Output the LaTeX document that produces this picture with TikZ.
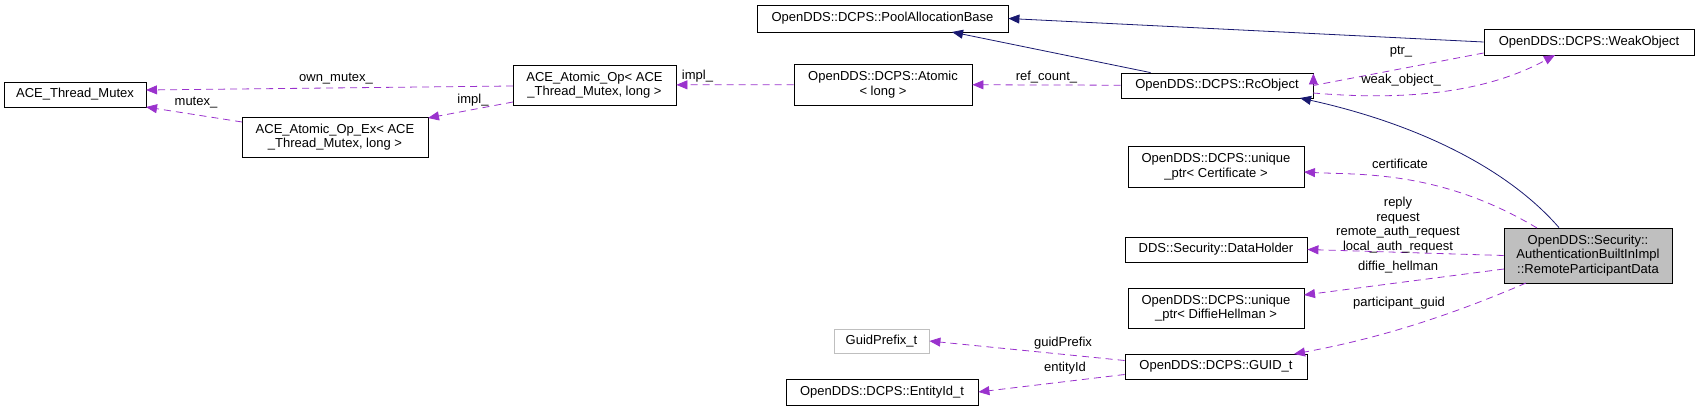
\documentclass[tikz,border=0pt]{standalone}
\usepackage{fontspec}
\setmainfont{Liberation Sans}
\usetikzlibrary{arrows.meta}
\definecolor{usecol}{HTML}{9A32CD}
\definecolor{inhcol}{HTML}{191970}
\begin{document}
\begin{tikzpicture}[x=1pt,y=-1pt,
  cls/.style={draw,thick,inner sep=0pt,align=center,font=\fontsize{13}{14.7}\selectfont},
  use/.style={draw=usecol,thick,dash pattern=on 7pt off 5pt,-{Triangle[length=11pt,width=9pt]},usecol},
  inh/.style={draw=inhcol,thick,-{Triangle[length=11pt,width=9pt]},inhcol},
  lbl/.style={font=\fontsize{13}{14.7}\selectfont,text=black,inner sep=1pt,align=center}]
      \useasboundingbox (0,0) rectangle (1695,411);
      \node[cls,minimum width=142pt,minimum height=25pt] (mutex) at (75,94.5) {ACE\_Thread\_Mutex};
      \node[cls,minimum width=163pt,minimum height=40pt] (atomop) at (594.5,85) {ACE\_Atomic\_Op< ACE\\\_Thread\_Mutex, long >};
      \node[cls,minimum width=186pt,minimum height=40pt] (atomopex) at (335,137) {ACE\_Atomic\_Op\_Ex< ACE\\\_Thread\_Mutex, long >};
      \node[cls,minimum width=251pt,minimum height=27pt] (pool) at (882.5,18.5) {OpenDDS::DCPS::PoolAllocationBase};
      \node[cls,minimum width=178pt,minimum height=41pt] (atomic) at (883,84.5) {OpenDDS::DCPS::Atomic\\< long >};
      \node[cls,minimum width=192pt,minimum height=25pt] (rc) at (1217,85.5) {OpenDDS::DCPS::RcObject};
      \node[cls,minimum width=210pt,minimum height=26pt] (weak) at (1589,42) {OpenDDS::DCPS::WeakObject};
      \node[cls,minimum width=176pt,minimum height=41pt] (cert) at (1216,166.5) {OpenDDS::DCPS::unique\\\_ptr< Certificate >};
      \node[cls,minimum width=182pt,minimum height=25pt] (holder) at (1216,249.5) {DDS::Security::DataHolder};
      \node[cls,minimum width=176pt,minimum height=40pt] (dh) at (1216,308) {OpenDDS::DCPS::unique\\\_ptr< DiffieHellman >};
      \node[cls,minimum width=182pt,minimum height=25pt] (guid) at (1216,366.5) {OpenDDS::DCPS::GUID\_t};
      \node[cls,draw=black!25,minimum width=95pt,minimum height=24pt] (prefix) at (881.5,341) {GuidPrefix\_t};
      \node[cls,minimum width=192pt,minimum height=26pt] (entity) at (882,392) {OpenDDS::DCPS::EntityId\_t};
      \node[cls,fill=black!25,minimum width=168pt,minimum height=55pt] (main) at (1588,255.5) {OpenDDS::Security::\\AuthenticationBuiltInImpl\\::RemoteParticipantData};

      % inheritance
      \draw[inh] (rc.north west) ++(30,0) coordinate (rcn) -- (952,32);
      \draw[inh] (weak.west) -- (pool.east);
      \draw[inh] (main.north) ++(-29,0) coordinate (mn) .. controls (1500,160) and (1400,120) .. (1300,98);

      % members
      \draw[use] (weak.west) ++(0,11) -- (rc.east) ++(0,-12);
      \draw[use] (1313,93) .. controls (1430,103) and (1500,85) .. (1555,55);
      \draw[use] (rc) -- (atomic) node[lbl,pos=0.5,above=1pt] {ref\_count\_};
      \draw[use] (atomic) -- (atomop) node[lbl,pos=0.82,above=1pt] {impl\_};
      \draw[use] (513,86) -- (146,90);
      \draw[use] (513,102) -- (428,118);
      \draw[use] (242,122) -- (146,107);
      \draw[use] (1537,228) .. controls (1440,170) and (1360,175) .. (1304,172);
      \draw[use] (main.west) -- (holder.east);
      \draw[use] (1504,269) -- (1304,295);
      \draw[use] (1526,283) .. controls (1440,320) and (1370,340) .. (1294,354);
      \draw[use] (guid.west) ++(0,-6) -- (prefix.east);
      \draw[use] (guid.west) ++(0,8) -- (entity.east);

      % labels
      \node[lbl] (lptr) at (1401,52) {ptr\_};
      \node[lbl] (lweak) at (1401,80) {weak\_object\_};
      \node[lbl] (lown) at (336,79) {own\_mutex\_};
      \node[lbl] (lmutex) at (196,103) {mutex\_};
      \node[lbl] (limpl) at (473,100) {impl\_};
      \node[lbl] (lcert) at (1400,164) {certificate};
      \node[lbl] (lreq) at (1398,225) {reply\\request\\remote\_auth\_request\\local\_auth\_request};
      \node[lbl] (ldh) at (1398,267) {diffie\_hellman};
      \node[lbl] (lpg) at (1399,303) {participant\_guid};
      \node[lbl] (lgp) at (1063,343) {guidPrefix};
      \node[lbl] (leid) at (1065,368) {entityId};
\end{tikzpicture}
\end{document}
